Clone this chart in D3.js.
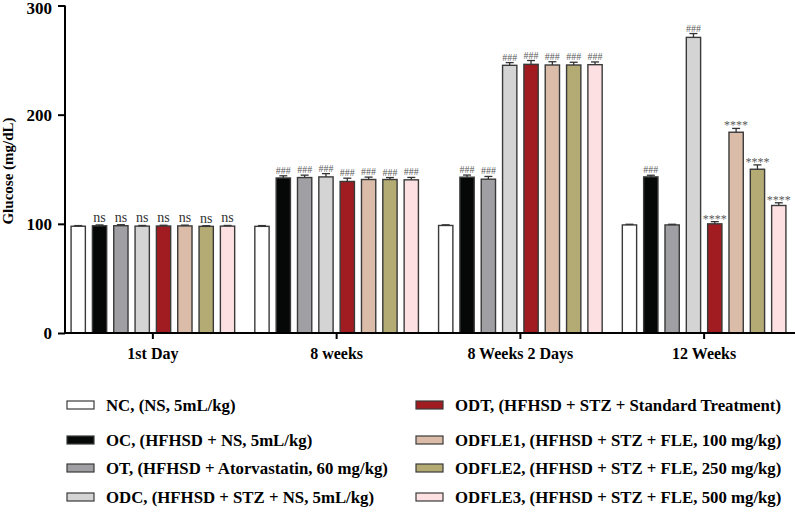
<!DOCTYPE html>
<html>
<head>
<meta charset="utf-8">
<script src="https://cdn.jsdelivr.net/npm/d3@7"></script>
<style>
  body { margin: 0; background: #fff; }
</style>
</head>
<body>
<div id="chart"></div>
<script>
const FONT = 'Liberation Serif, Times New Roman, DejaVu Serif, serif';

// timepoints on the x axis
const timepoints = ['1st Day', '8 weeks', '8 Weeks 2 Days', '12 Weeks'];

// treatment groups
const groups = ['NC', 'OC', 'OT', 'ODC', 'ODT', 'ODFLE1', 'ODFLE2', 'ODFLE3'];
const groupLabels = [
  'NC, (NS, 5mL/kg)',
  'OC, (HFHSD + NS, 5mL/kg)',
  'OT, (HFHSD + Atorvastatin, 60 mg/kg)',
  'ODC, (HFHSD + STZ + NS, 5mL/kg)',
  'ODT, (HFHSD + STZ + Standard Treatment)',
  'ODFLE1, (HFHSD + STZ + FLE, 100 mg/kg)',
  'ODFLE2, (HFHSD + STZ + FLE, 250 mg/kg)',
  'ODFLE3, (HFHSD + STZ + FLE, 500 mg/kg)'
];
const groupColors = ['#ffffff', '#060808', '#a0a0a4', '#d4d4d4', '#a01c20', '#dbbca8', '#b3aa74', '#fde1e2'];

// mean glucose (mg/dL), one array per timepoint, in group order
const day1     = [97.8, 98.2, 98.3, 97.9, 98.0, 98.1, 97.7, 97.9];
const week8    = [97.7, 142.0, 142.4, 143.0, 138.8, 140.6, 140.6, 140.3];
const week8d2  = [98.5, 142.7, 140.9, 245.2, 246.1, 245.5, 245.5, 245.8];
const week12   = [99.0, 143.0, 99.0, 270.8, 100.0, 183.9, 150.0, 116.8];
const means = [day1, week8, week8d2, week12];

// SEM
const day1Err    = [0.6, 0.8, 0.9, 0.6, 0.7, 0.7, 0.6, 0.6];
const week8Err   = [0.7, 2.0, 2.2, 3.0, 3.0, 2.2, 1.8, 2.2];
const week8d2Err = [0.6, 2.0, 2.5, 2.5, 3.5, 3.0, 2.5, 2.5];
const week12Err  = [0.6, 1.5, 0.6, 3.5, 2.0, 3.5, 4.0, 2.5];
const errors = [day1Err, week8Err, week8d2Err, week12Err];

// significance marks above bars
const day1Sig    = ['', 'ns', 'ns', 'ns', 'ns', 'ns', 'ns', 'ns'];
const week8Sig   = ['', '###', '###', '###', '###', '###', '###', '###'];
const week8d2Sig = ['', '###', '###', '###', '###', '###', '###', '###'];
const week12Sig  = ['', '###', '', '###', '****', '****', '****', '****'];
const marks = [day1Sig, week8Sig, week8d2Sig, week12Sig];

const yTicks = [0, 100, 200, 300];

const W = 795, H = 525;
const svg = d3.select('#chart').append('svg')
  .attr('width', W).attr('height', H)
  .style('font-family', FONT);

const y = d3.scaleLinear().domain([0, 300]).range([333, 5.5]);
const x0 = d3.scaleBand().domain(timepoints).range([61, 796]).padding(0);
const x1 = d3.scaleBand().domain(groups)
  .range([0, 170]).paddingInner(0.33).paddingOuter(0.15);
const innerOffset = (x0.bandwidth() - 170) / 2;

const rows = [];
timepoints.forEach((t, i) => {
  groups.forEach((g, j) => {
    rows.push({t, g, j, v: means[i][j], e: errors[i][j], m: marks[i][j]});
  });
});

const bx = d => x0(d.t) + innerOffset + x1(d.g);
const bw = x1.bandwidth();

const bars = svg.append('g');
bars.selectAll('rect').data(rows).enter().append('rect')
  .attr('x', bx)
  .attr('y', d => y(d.v))
  .attr('width', bw)
  .attr('height', d => y(0) - y(d.v))
  .attr('fill', d => groupColors[d.j])
  .attr('stroke', '#3a3a3a')
  .attr('stroke-width', 1.4);

// error bars (upper only)
const eb = svg.append('g').attr('stroke', '#333').attr('stroke-width', 1.3);
eb.selectAll('line.v').data(rows).enter().append('line')
  .attr('x1', d => bx(d) + bw / 2).attr('x2', d => bx(d) + bw / 2)
  .attr('y1', d => y(d.v)).attr('y2', d => y(d.v + d.e));
eb.selectAll('line.h').data(rows).enter().append('line')
  .attr('x1', d => bx(d) + bw / 2 - 4).attr('x2', d => bx(d) + bw / 2 + 4)
  .attr('y1', d => y(d.v + d.e)).attr('y2', d => y(d.v + d.e));

// significance labels
svg.append('g').selectAll('text').data(rows.filter(d => d.m)).enter().append('text')
  .attr('x', d => bx(d) + bw / 2)
  .attr('y', d => y(d.v + d.e) - (d.m === 'ns' ? 3 : (d.m === '****' ? -1 : 2)))
  .attr('text-anchor', 'middle')
  .attr('font-family', FONT)
  .attr('font-size', d => d.m === 'ns' ? 14 : (d.m === '****' ? 12 : 10))
  .attr('fill', d => d.m === 'ns' ? '#333' : '#5a5a5a')
  .text(d => d.m);

// y axis
const yAxis = svg.append('g')
  .attr('transform', 'translate(65,0)')
  .call(d3.axisLeft(y).tickValues(yTicks).tickSize(7).tickPadding(6));
yAxis.attr('font-family', FONT);
yAxis.select('.domain').attr('stroke', '#000').attr('stroke-width', 2)
  .attr('d', 'M0,' + y(300) + 'V' + y(0));
yAxis.selectAll('.tick line').attr('stroke', '#000').attr('stroke-width', 2);
yAxis.selectAll('.tick text')
  .attr('font-weight', 'bold').attr('font-size', 17).attr('fill', '#000')
  .attr('dy', d => d === 300 ? '0.45em' : '0.32em');

// x axis
const xAxis = svg.append('g')
  .attr('transform', 'translate(0,' + y(0) + ')')
  .call(d3.axisBottom(x0).tickSize(6).tickPadding(9));
xAxis.attr('font-family', FONT);
xAxis.select('.domain').attr('stroke', '#000').attr('stroke-width', 2)
  .attr('d', 'M64,0H795');
xAxis.selectAll('.tick line').attr('stroke', '#000').attr('stroke-width', 2);
xAxis.selectAll('.tick text')
  .attr('font-weight', 'bold').attr('font-size', 16).attr('fill', '#000');

svg.append('text')
  .attr('transform', 'translate(13,171) rotate(-90)')
  .attr('text-anchor', 'middle')
  .attr('font-family', FONT)
  .attr('font-weight', 'bold').attr('font-size', 15)
  .text('Glucose (mg/dL)');

// legend
const rowY = [405, 440, 468, 497];
const legend = svg.append('g');
const items = legend.selectAll('g').data(groups).enter().append('g')
  .attr('transform', (d, i) => 'translate(' + (i < 4 ? 67 : 416) + ',' + rowY[i % 4] + ')');
items.append('rect')
  .attr('x', 0).attr('y', -4).attr('width', 27).attr('height', 8)
  .attr('fill', (d, i) => groupColors[i])
  .attr('stroke', '#3a3a3a').attr('stroke-width', 1.2);
items.append('text')
  .attr('x', 39).attr('y', 6)
  .attr('font-family', FONT)
  .attr('font-weight', 'bold').attr('font-size', 16.8)
  .text((d, i) => groupLabels[i]);
</script>
</body>
</html>
